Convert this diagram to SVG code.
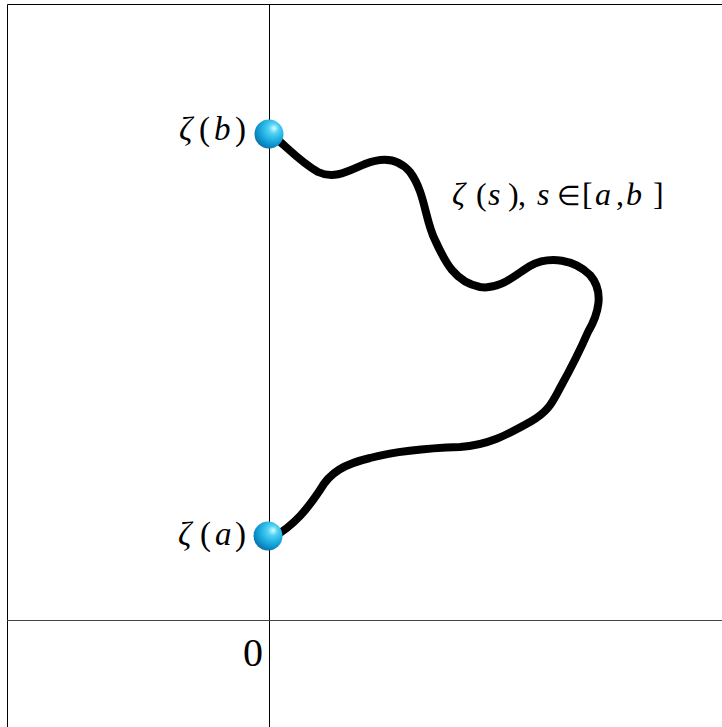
<svg xmlns="http://www.w3.org/2000/svg" width="722" height="727" viewBox="0 0 722 727">
<defs>
<radialGradient id="ball" cx="0.62" cy="0.35" r="0.7" fx="0.68" fy="0.3">
<stop offset="0" stop-color="#d8fbff"/>
<stop offset="0.25" stop-color="#4fd2f5"/>
<stop offset="0.7" stop-color="#119fd6"/>
<stop offset="1" stop-color="#0a6fa8"/>
</radialGradient>
</defs>
<rect width="722" height="727" fill="#fff"/>
<g id="frame">
<path d="M7.5,727 V4.5 H722" fill="none" stroke="#000" stroke-width="1"/>
<path d="M269.5,4 V727" fill="none" stroke="#000" stroke-width="1"/>
<path d="M7,620.5 H722" fill="none" stroke="#444" stroke-width="1"/>
<text x="243" y="666" font-family="'Liberation Serif', 'Times New Roman', serif" font-size="40" fill="#000">0</text>
</g>
<g id="connectors">
<path fill="none" stroke="#000" stroke-width="8" stroke-linejoin="round" d="M272,135 C285,145 300,162 318,172 C335,180 350,170 365,164 C385,156 400,160 410,172 C425,192 425,220 435,240 C445,262 455,282 480,287 C500,290 515,275 530,266 C550,255 575,260 590,275 C605,292 598,315 588,332 C578,355 570,370 560,388 C552,403 548,412 530,422 C510,433 490,445 460,447 C430,448 400,450 370,458 C345,464 330,472 320,490 C308,508 295,525 272,538"/>
</g>
<g id="za">
<circle cx="268" cy="536" r="14.5" fill="url(#ball)"/>
<text y="545" font-family="'Liberation Serif', 'Times New Roman', serif" font-size="33" fill="#000"><tspan font-style="italic" x="178">ζ</tspan><tspan x="200">(</tspan><tspan font-style="italic" x="215">a</tspan><tspan x="235">)</tspan></text>
</g>
<g id="zb">
<circle cx="269" cy="134" r="14.5" fill="url(#ball)"/>
<text y="140" font-family="'Liberation Serif', 'Times New Roman', serif" font-size="33" fill="#000"><tspan font-style="italic" x="179">ζ</tspan><tspan x="199">(</tspan><tspan font-style="italic" x="214">b</tspan><tspan x="235">)</tspan></text>
</g>
<g id="label">
<text y="205" font-family="'Liberation Serif', 'Times New Roman', serif" font-size="32" fill="#000"><tspan font-style="italic" x="452">ζ</tspan><tspan x="476">(</tspan><tspan font-style="italic" x="488">s</tspan><tspan x="508">)</tspan><tspan x="518">,</tspan><tspan font-style="italic" x="537">s</tspan><tspan x="557" font-size="27">∈</tspan><tspan x="582">[</tspan><tspan font-style="italic" x="595">a</tspan><tspan x="616">,</tspan><tspan font-style="italic" x="626">b</tspan><tspan x="653">]</tspan></text>
</g>
</svg>
